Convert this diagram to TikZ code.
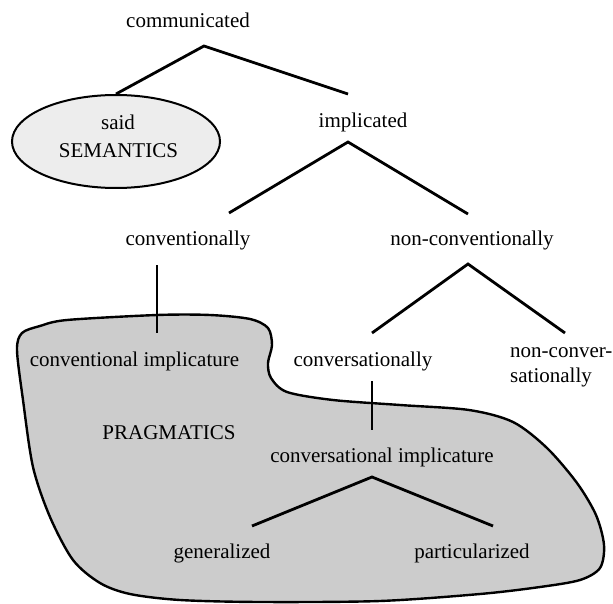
\documentclass[tikz,border=0pt]{standalone}
\usepackage{fontspec}
\setmainfont{Liberation Serif}
\usetikzlibrary{shapes.geometric}
\tikzset{
  lbl/.style={inner sep=0pt, font=\fontsize{21}{25}\selectfont},
  branch/.style={line width=2.8pt},
}
\begin{document}
\begin{tikzpicture}[x=1pt, y=-1pt]
      \useasboundingbox (0,0) rectangle (613,604);
      % pragmatics region
      \draw[line width=2.4pt, fill=black!20] plot[smooth cycle, tension=0.5] coordinates {
        (17,350) (22,333) (40,326) (67,320) (157,315) (210,315) (250,319) (268,328)
        (272,345) (268,363) (271,378) (287,392) (333,400) (400,405) (469,410) (513,422)
        (547,448) (577,483) (596,515) (604,545) (600,568) (580,580) (540,587) (480,594)
        (380,601) (260,602) (180,600) (130,594) (100,583) (73,560) (50,517) (33,467) (23,400)};
      %
      \node[lbl] (comm) at (188,20) {communicated};
      \node[lbl, ellipse, draw, line width=2pt, fill=black!7, minimum width=208, minimum height=93] (said) at (116,141.5) {};
      \node[lbl] (saidtxt) at (118,122) {said};
      \node[lbl] (sem) at (118.5,151) {SEMANTICS};
      \node[lbl] (impl) at (363,122) {implicated};
      \node[lbl] (convly) at (188,240) {conventionally};
      \node[lbl] (nconvly) at (472,240) {non-conventionally};
      \node[lbl] (convimp) at (134.5,361) {conventional implicature};
      \node[lbl] (convsly) at (363,361) {conversationally};
      \node[lbl, align=left, anchor=west] (nconvsly) at (510,367) {non-conver-\\sationally};
      \node[lbl] (prag) at (169,433) {PRAGMATICS};
      \node[lbl] (convsimp) at (382,457) {conversational implicature};
      \node[lbl] (gen) at (222,553) {generalized};
      \node[lbl] (part) at (472,553) {particularized};
      %
      \coordinate (comm-t) at (204,46);
      \coordinate (impl-b) at (348,94);
      \coordinate (impl-t) at (348,142);
      \coordinate (convly-b) at (229,213);
      \coordinate (nconvly-b) at (468,214);
      \coordinate (convly-t) at (157,265);
      \coordinate (convimp-b) at (157,333);
      \coordinate (nconvly-t) at (468,264);
      \coordinate (convsly-b) at (372,333);
      \coordinate (nconvsly-b) at (565,333);
      \coordinate (convsly-t) at (372,381);
      \coordinate (convsimp-b) at (372,430);
      \coordinate (convsimp-t) at (372,477);
      \coordinate (gen-b) at (252,526);
      \coordinate (part-b) at (493,526);
      %
      \draw[branch] (said.north) -- (comm-t) -- (impl-b);
      \draw[branch] (convly-b) -- (impl-t) -- (nconvly-b);
      \draw[branch] (convly-t) -- (convimp-b);
      \draw[branch] (convsly-b) -- (nconvly-t) -- (nconvsly-b);
      \draw[branch] (convsly-t) -- (convsimp-b);
      \draw[branch] (gen-b) -- (convsimp-t) -- (part-b);
      %
    \end{tikzpicture}
\end{document}
